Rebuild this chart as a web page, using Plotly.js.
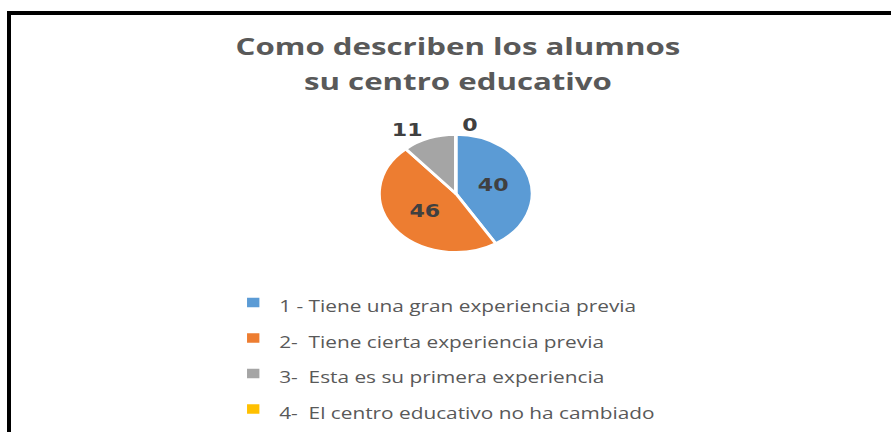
<!DOCTYPE html>
<html>
<head>
<meta charset="utf-8">
<script src="https://cdn.plot.ly/plotly-3.0.1.min.js"></script>
<style>
  html, body { margin: 0; padding: 0; background: #ffffff; overflow: hidden; }
  #wrap { position: absolute; left: 0; top: 0; width: 891px; height: 432px; overflow: hidden; }
  #chart { position: absolute; left: 0; top: 0; width: 685px; height: 432px;
           transform: scaleX(1.3007); transform-origin: 0 0; }
  #frame { position: absolute; left: 7px; top: 11px; width: 900px; height: 500px;
           border-left: 4px solid #000; border-top: 4px solid #000; pointer-events: none; }
</style>
</head>
<body>
<div id="wrap">
  <div id="chart"></div>
  <div id="frame"></div>
</div>
<script>
// ---- data ----
const categories = [
  "1 - Tiene una gran experiencia previa",
  "2-  Tiene cierta experiencia previa",
  "3-  Esta es su primera experiencia",
  "4-  El centro educativo no ha cambiado"
];
const values = [40, 46, 11, 0];
const sliceColors = ["#5B9BD5", "#ED7D31", "#A5A5A5", "#FFC000"];
const labelPositions = ["inside", "inside", "outside", "outside"];
const titleLines = ["Como describen los alumnos", "su centro educativo"];

// ---- build ----
const legendLabels = categories.map(c => '<span style="font-size:16px">' + c + '</span>');
const titleText = titleLines.map(t => '<span style="font-size:24px">' + t + '</span>').join('<br>');

const trace = {
  type: 'pie',
  labels: legendLabels,
  values: values,
  sort: false,
  direction: 'clockwise',
  rotation: 0,
  textinfo: 'value',
  textposition: labelPositions,
  insidetextorientation: 'horizontal',
  textfont: { family: 'DejaVu Sans', size: 17, weight: 'bold', color: '#404040' },
  outsidetextfont: { family: 'DejaVu Sans', size: 17, weight: 'bold', color: '#404040' },
  marker: { colors: sliceColors, line: { color: '#ffffff', width: 2.5 } },
  domain: { x: [0.4245, 0.5985], y: [0.405, 0.6825] },
  hoverinfo: 'label+value'
};

const layout = {
  width: 685,
  height: 432,
  margin: { l: 0, r: 0, t: 0, b: 0 },
  paper_bgcolor: '#ffffff',
  plot_bgcolor: '#ffffff',
  title: {
    text: titleText,
    font: { family: 'Open Sans', size: 27, weight: 'bold', color: '#595959' },
    x: 0.514, xanchor: 'center',
    y: 0.872, yanchor: 'top', yref: 'container'
  },
  showlegend: true,
  legend: {
    orientation: 'v',
    x: 0.255, xanchor: 'left',
    y: 0.34, yanchor: 'top',
    font: { family: 'Open Sans', size: 25, color: '#595959' },
    bgcolor: 'rgba(0,0,0,0)'
  }
};

Plotly.newPlot('chart', [trace], layout, { displayModeBar: false, staticPlot: true });
</script>
</body>
</html>
